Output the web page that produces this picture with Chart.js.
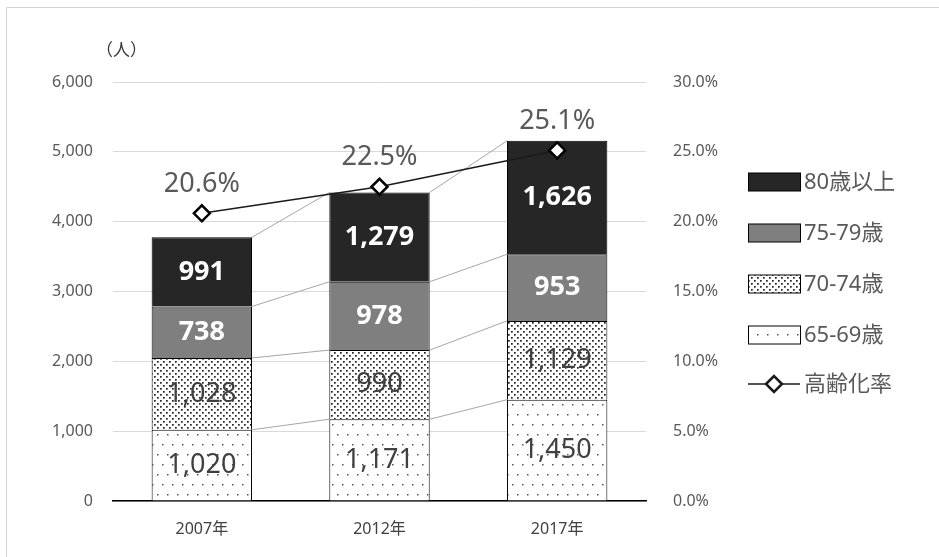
<!DOCTYPE html>
<html>
<head>
	<meta charset="UTF-8">
	<title>高齢者人口と高齢化率</title>
	<style>
		body { margin: 0; background: #fff; }
		canvas { display: block; }
	</style>
	<script src="https://cdn.jsdelivr.net/npm/chart.js@4.4.0/dist/chart.umd.min.js"></script>
</head>
<body>
	<canvas id="canvas" width="939" height="557"></canvas>
	<script>
		var years = ['2007年', '2012年', '2017年'];
		var age65 = [1020, 1171, 1450];
		var age70 = [1028, 990, 1129];
		var age75 = [738, 978, 953];
		var age80 = [991, 1279, 1626];
		var agingRate = [20.6, 22.5, 25.1];
		var legendNames = ['80歳以上', '75-79歳', '70-74歳', '65-69歳', '高齢化率'];

		var FONT = '"Noto Sans", "Noto Sans CJK JP", sans-serif';
		var ctx = document.getElementById('canvas').getContext('2d');

		function makePattern(w, h, dots, size, color) {
			var c = document.createElement('canvas');
			c.width = w; c.height = h;
			var g = c.getContext('2d');
			g.fillStyle = '#fff';
			g.fillRect(0, 0, w, h);
			g.fillStyle = color;
			dots.forEach(function(d){ g.fillRect(d[0], d[1], size, size); });
			return ctx.createPattern(c, 'repeat');
		}
		var denseDots = makePattern(6, 6, [[1, 1], [4, 4]], 1.7, '#222');
		var sparseDots = makePattern(10, 20, [[2, 4], [7, 14]], 1.5, '#555');

		// gray series lines joining the segment tops of neighbouring bars
		var connectors = {
			id: 'connectors',
			beforeDatasetsDraw: function(chart){
				var c = chart.ctx;
				c.save();
				c.strokeStyle = '#a6a6a6';
				c.lineWidth = 1;
				for (var i = 0; i < 4; i++) {
					var els = chart.getDatasetMeta(i).data;
					for (var j = 0; j < els.length - 1; j++) {
						var a = els[j], b = els[j + 1];
						c.beginPath();
						c.moveTo(a.x + a.width / 2, a.y);
						c.lineTo(b.x - b.width / 2, b.y);
						c.stroke();
					}
				}
				c.restore();
			}
		};

		var valueLabels = {
			id: 'valueLabels',
			afterDatasetsDraw: function(chart){
				var c = chart.ctx;
				c.save();
				c.textAlign = 'center';
				c.textBaseline = 'middle';
				chart.data.datasets.forEach(function(ds, i){
					var els = chart.getDatasetMeta(i).data;
					els.forEach(function(el, j){
						var v = ds.data[j];
						if (ds.type === 'line') {
							c.font = '27px ' + FONT;
							c.fillStyle = '#595959';
							c.fillText(v.toFixed(1) + '%', el.x, el.y - 29);
						} else {
							var dark = i >= 2;
							c.font = (dark ? 'bold ' : '') + '27px ' + FONT;
							c.fillStyle = dark ? '#fff' : '#404040';
							c.fillText(v.toLocaleString('en-US'), el.x, (el.y + el.base) / 2);
						}
					});
				});
				c.restore();
			}
		};

		var sideLegend = {
			id: 'sideLegend',
			afterDraw: function(chart){
				var c = chart.ctx;
				var fills = ['#262626', '#7f7f7f', denseDots, sparseDots];
				c.save();
				c.font = '22px ' + FONT;
				c.textBaseline = 'middle';
				legendNames.forEach(function(name, k){
					var cy = 182 + k * 51;
					if (k < 4) {
						c.fillStyle = fills[k];
						c.fillRect(748.5, cy - 9, 52, 18);
						c.strokeStyle = '#000';
						c.lineWidth = 1;
						c.strokeRect(748.5, cy - 9, 52, 18);
					} else {
						cy = 384;
						c.strokeStyle = '#1a1a1a';
						c.lineWidth = 1.5;
						c.beginPath(); c.moveTo(748, cy); c.lineTo(800, cy); c.stroke();
						c.fillStyle = '#fff';
						c.lineWidth = 2.5;
						c.beginPath();
						c.moveTo(774 - 8, cy); c.lineTo(774, cy - 8); c.lineTo(774 + 8, cy); c.lineTo(774, cy + 8);
						c.closePath(); c.fill(); c.stroke();
					}
					c.fillStyle = '#595959';
					c.textAlign = 'left';
					c.fillText(name, 804, cy + 1);
				});
				// unit label
				c.font = '17px "Noto Sans CJK JP", sans-serif';
				c.fillStyle = '#333';
				c.textAlign = 'left';
				c.fillText('（人）', 96, 50);
				c.restore();
			}
		};

		var frame = {
			id: 'frame',
			beforeDraw: function(chart){
				var c = chart.ctx;
				c.save();
				c.fillStyle = '#fff';
				c.fillRect(0, 0, chart.width, chart.height);
				c.strokeStyle = '#d4d4d4';
				c.lineWidth = 1;
				c.beginPath();
				c.moveTo(6.5, chart.height); c.lineTo(6.5, 7.5); c.lineTo(chart.width, 7.5);
				c.stroke();
				c.restore();
			}
		};

		function barSet(label, data, fill) {
			return {
				type: 'bar', label: label, data: data, yAxisID: 'y', order: 1,
				backgroundColor: fill, borderColor: '#000', borderWidth: 1,
				categoryPercentage: 1, barPercentage: 0.565
			};
		}

		new Chart(ctx, {
			data: {
				labels: years,
				datasets: [
					barSet('65-69歳', age65, sparseDots),
					barSet('70-74歳', age70, denseDots),
					barSet('75-79歳', age75, '#7f7f7f'),
					barSet('80歳以上', age80, '#262626'),
					{
						type: 'line', label: '高齢化率', data: agingRate, yAxisID: 'y1', order: 0,
						borderColor: '#1a1a1a', borderWidth: 1.5, tension: 0,
						pointStyle: 'rectRot', pointRadius: 8, pointBackgroundColor: '#fff',
						pointBorderColor: '#000', pointBorderWidth: 2.5
					}
				]
			},
			options: {
				responsive: false,
				animation: false,
				layout: { padding: { top: 82, right: 193, left: 0, bottom: 0 } },
				plugins: { legend: { display: false }, tooltip: { enabled: false } },
				scales: {
					x: {
						stacked: true,
						grid: { display: false },
						border: { display: true, color: '#000', width: 1.5 },
						ticks: { color: '#404040', font: { family: FONT, size: 16 }, padding: 11 },
						afterFit: function(s){ s.height = 56; }
					},
					y: {
						stacked: true, min: 0, max: 6000,
						grid: { color: '#d9d9d9', drawTicks: false },
						border: { display: false },
						ticks: {
							stepSize: 1000, padding: 20, color: '#595959',
							font: { family: FONT, size: 16 },
							callback: function(v){ return v.toLocaleString('en-US'); }
						},
						afterFit: function(s){ s.width = 113; }
					},
					y1: {
						position: 'right', min: 0, max: 30,
						grid: { display: false },
						border: { display: false },
						ticks: {
							stepSize: 5, padding: 19, color: '#595959',
							font: { family: FONT, size: 16 },
							callback: function(v){ return v.toFixed(1) + '%'; }
						},
						afterFit: function(s){ s.width = 100; }
					}
				}
			},
			plugins: [frame, connectors, valueLabels, sideLegend]
		});
	</script>
</body>
</html>
